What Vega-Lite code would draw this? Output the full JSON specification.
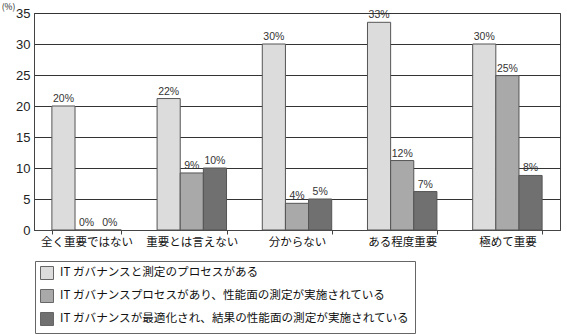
{
  "$schema": "https://vega.github.io/schema/vega-lite/v6.json",
  "width": 526,
  "height": 217,
  "autosize": {"type": "none"},
  "padding": {"left": 34, "top": 13, "right": 7, "bottom": 105},
  "background": "white",
  "config": {
    "view": {"stroke": "#444", "strokeWidth": 1},
    "font": "Noto Sans CJK JP"
  },
  "data": {
    "values": [
      {"cat": "全く重要ではない", "series": "IT ガバナンスと測定のプロセスがある", "value": 20, "label": "20%"},
      {"cat": "全く重要ではない", "series": "IT ガバナンスプロセスがあり、性能面の測定が実施されている", "value": 0, "label": "0%"},
      {"cat": "全く重要ではない", "series": "IT ガバナンスが最適化され、結果の性能面の測定が実施されている", "value": 0, "label": "0%"},
      {"cat": "重要とは言えない", "series": "IT ガバナンスと測定のプロセスがある", "value": 21.2, "label": "22%"},
      {"cat": "重要とは言えない", "series": "IT ガバナンスプロセスがあり、性能面の測定が実施されている", "value": 9.2, "label": "9%"},
      {"cat": "重要とは言えない", "series": "IT ガバナンスが最適化され、結果の性能面の測定が実施されている", "value": 10, "label": "10%"},
      {"cat": "分からない", "series": "IT ガバナンスと測定のプロセスがある", "value": 30, "label": "30%"},
      {"cat": "分からない", "series": "IT ガバナンスプロセスがあり、性能面の測定が実施されている", "value": 4.3, "label": "4%"},
      {"cat": "分からない", "series": "IT ガバナンスが最適化され、結果の性能面の測定が実施されている", "value": 5, "label": "5%"},
      {"cat": "ある程度重要", "series": "IT ガバナンスと測定のプロセスがある", "value": 33.5, "label": "33%"},
      {"cat": "ある程度重要", "series": "IT ガバナンスプロセスがあり、性能面の測定が実施されている", "value": 11.2, "label": "12%"},
      {"cat": "ある程度重要", "series": "IT ガバナンスが最適化され、結果の性能面の測定が実施されている", "value": 6.2, "label": "7%"},
      {"cat": "極めて重要", "series": "IT ガバナンスと測定のプロセスがある", "value": 30, "label": "30%"},
      {"cat": "極めて重要", "series": "IT ガバナンスプロセスがあり、性能面の測定が実施されている", "value": 24.9, "label": "25%"},
      {"cat": "極めて重要", "series": "IT ガバナンスが最適化され、結果の性能面の測定が実施されている", "value": 8.8, "label": "8%"}
    ]
  },
  "encoding": {
    "x": {
      "field": "cat", "type": "nominal", "sort": null,
      "scale": {"paddingInner": 0.34, "paddingOuter": 0.17},
      "axis": {
        "title": null, "labelAngle": 0, "labelFontSize": 11.5, "labelColor": "#111",
        "labelPadding": 2, "tickBand": "extent", "tickSize": 4, "tickColor": "#444",
        "domainColor": "#444"
      }
    },
    "xOffset": {
      "field": "series", "type": "nominal", "sort": null
    },
    "y": {
      "field": "value", "type": "quantitative",
      "scale": {"domain": [0, 35], "nice": false},
      "axis": {
        "values": [0, 5, 10, 15, 20, 25, 30, 35],
        "grid": true, "gridColor": "#333", "gridOpacity": 1,
        "ticks": false, "labelPadding": 4, "labelFontSize": 13, "labelColor": "#222",
        "labelFont": "Liberation Sans",
        "domainColor": "#444",
        "title": "(%)", "titleAngle": 0, "titleX": -26, "titleY": -2,
        "titleAlign": "center", "titleBaseline": "bottom", "titleFontWeight": "normal",
        "titleFontSize": 8.5, "titleColor": "#222"
      }
    }
  },
  "layer": [
    {
      "mark": {"type": "bar", "stroke": "#555", "strokeWidth": 1},
      "encoding": {
        "fill": {
          "field": "series", "type": "nominal", "sort": null,
          "scale": {
            "domain": [
              "IT ガバナンスと測定のプロセスがある",
              "IT ガバナンスプロセスがあり、性能面の測定が実施されている",
              "IT ガバナンスが最適化され、結果の性能面の測定が実施されている"
            ],
            "range": ["#dcdcdc", "#a9a9a9", "#707070"]
          },
          "legend": {
            "title": null, "orient": "none", "legendX": 1, "legendY": 248,
            "direction": "vertical",
            "strokeColor": "#666", "padding": 5, "fillColor": "white",
            "symbolType": "square", "symbolSize": 169, "symbolStrokeColor": "#666",
            "symbolStrokeWidth": 1,
            "labelFontSize": 11.6, "labelColor": "#111", "labelLimit": 500,
            "labelOffset": 6, "rowPadding": 5
          }
        }
      }
    },
    {
      "mark": {"type": "text", "baseline": "bottom", "dy": -2, "fontSize": 10.5, "color": "#333", "font": "Liberation Sans"},
      "encoding": {
        "text": {"field": "label"}
      }
    }
  ]
}
